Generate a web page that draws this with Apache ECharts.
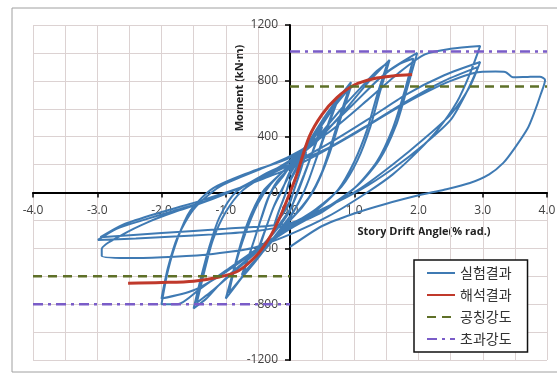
<!DOCTYPE html>
<html>
<head>
<meta charset="utf-8">
<script src="https://cdn.jsdelivr.net/npm/echarts@6/dist/echarts.min.js"></script>
<style>
  html, body { margin: 0; padding: 0; background: #fff; }
  #chart { width: 557px; height: 373px; }
</style>
</head>
<body>
<div id="chart"></div>
<script>
// drift angle ticks (% rad.) and moment ticks (kN·m)
var xTicks = [-4, -3, -2, -1, 0, 1, 2, 3, 4];
var yTicks = [-1200, -800, -400, 0, 400, 800, 1200];

// 실험결과 - hysteresis loops
var testCurve = [
  [0,0],[0.12,150],[0.25,290],[0.18,180],[0.08,40],[0,-60],[-0.12,-150],[-0.25,-240],[-0.18,-140],[-0.08,-20],
  [0,80],[0.12,180],[0.25,280],[0.17,170],[0.07,30],[0,-70],[-0.12,-160],[-0.24,-230],[-0.17,-130],[-0.07,-10],
  [0,90],[0.2,260],[0.35,380],[0.5,490],[0.38,330],[0.25,160],[0.12,0],[0,-120],[-0.2,-250],[-0.35,-340],[-0.5,-430],
  [-0.4,-290],[-0.27,-120],[-0.15,0],[0,130],[0.2,280],[0.5,470],[0.37,310],[0.22,130],[0.1,-10],[0,-130],[-0.25,-290],
  [-0.5,-410],[-0.38,-260],[-0.25,-100],[-0.12,20],
  [0,150],[0.3,350],[0.55,540],[0.75,690],[0.6,500],[0.45,300],[0.3,100],[0.15,-60],[0,-170],[-0.3,-350],[-0.55,-500],
  [-0.75,-610],[-0.62,-430],[-0.48,-230],[-0.35,-50],[-0.2,80],[0,180],[0.3,370],[0.55,550],[0.75,670],[0.58,460],
  [0.4,230],[0.25,40],[0.1,-100],[0,-180],[-0.3,-360],[-0.75,-590],[-0.6,-400],[-0.45,-190],[-0.3,0],[-0.1,120],
  [0,190],[0.3,360],[0.6,560],[0.8,700],[0.95,790],[0.8,580],[0.65,360],[0.5,150],[0.3,-30],[0,-200],[-0.3,-350],
  [-0.6,-520],[-0.85,-670],[-1.0,-760],[-0.88,-560],[-0.75,-340],[-0.6,-150],[-0.4,20],[0,200],[0.4,420],[0.7,620],
  [0.95,760],[0.78,520],[0.6,260],[0.4,40],[0.2,-100],[0,-200],[-0.4,-400],[-0.7,-580],[-0.95,-720],[-0.85,-520],
  [-0.7,-300],[-0.5,-80],[-0.3,60],
  [0,200],[0.4,380],[0.8,600],[1.1,750],[1.35,870],[1.52,930],[1.35,690],[1.2,450],[1.0,220],[0.75,20],[0.4,-130],
  [0,-230],[-0.4,-380],[-0.8,-530],[-1.1,-660],[-1.3,-760],[-1.5,-830],[-1.38,-600],[-1.25,-380],[-1.1,-180],
  [-0.85,0],[-0.4,130],[0,220],[0.4,360],[0.8,560],[1.2,780],[1.55,950],[1.4,720],[1.25,470],[1.05,230],[0.8,40],
  [0.4,-120],[0,-240],[-0.5,-420],[-0.9,-580],[-1.2,-700],[-1.45,-790],[-1.33,-560],[-1.2,-340],[-1.0,-140],
  [-0.75,10],[-0.4,120],
  [0,230],[0.5,420],[1.0,640],[1.4,820],[1.7,920],[1.92,960],[1.78,720],[1.6,460],[1.35,220],[1.0,30],[0.5,-140],
  [0,-250],[-0.5,-400],[-1.0,-560],[-1.4,-690],[-1.75,-800],[-2.0,-800],[-1.9,-560],[-1.75,-330],[-1.55,-130],
  [-1.2,30],[-0.6,150],[0,250],[0.5,420],[1.0,640],[1.5,860],[1.98,1000],[1.82,740],[1.65,480],[1.4,240],[1.05,50],
  [0.5,-130],[0,-260],[-0.5,-410],[-1.0,-570],[-1.5,-700],[-2.0,-760],[-1.9,-540],[-1.75,-320],[-1.5,-120],
  [-1.1,40],[-0.5,160],
  [0,260],[0.6,430],[1.2,660],[1.7,860],[2.1,990],[2.5,1030],[2.96,1050],[2.8,850],[2.6,650],[2.3,450],[2.0,300],
  [1.6,130],[1.2,0],[0.6,-170],[0,-300],[-0.6,-400],[-1.2,-440],[-1.8,-460],[-2.4,-470],[-2.93,-455],
  [-2.93,-405],[-2.6,-300],[-2.2,-210],[-1.8,-140],[-1.4,-80],[-1.0,-10],[-0.5,90],[0,200],[0.6,350],[1.2,520],
  [1.8,700],[2.4,840],[2.96,935],[2.8,760],[2.5,560],[2.1,390],[1.6,200],[1.1,30],[0.6,-100],[0,-230],[-0.6,-280],
  [-1.2,-300],[-1.8,-315],[-2.4,-330],[-2.99,-340],[-2.7,-260],[-2.3,-200],[-1.8,-130],[-1.3,-60],[-0.8,30],
  [-0.3,150],[0,200],[0.6,320],[1.2,480],[1.8,650],[2.4,800],[2.93,900],[2.75,720],[2.5,520],[2.1,350],[1.6,170],
  [1.1,20],[0.5,-120],[0,-220],[-1.0,-260],[-2.0,-290],[-2.95,-320],[-2.6,-230],[-2.0,-140],[-1.4,-60],[-0.8,30],
  [-0.3,120],[0,170],[0.5,290],[1.0,420],[1.5,560],[2.0,690],[2.5,800],[2.96,864],[3.2,866],[3.35,864],[3.47,825],
  [3.7,828],[3.89,830],[3.97,806],[3.9,700],[3.8,570],[3.7,460],[3.5,320],[3.32,212],[3.1,130],[2.8,68],[2.4,20],
  [2.02,-18],[1.5,-80],[1.0,-150],[0.5,-240],[0,-390]
];

// 해석결과 - analysis backbone
var analysisCurve = [
  [-2.52,-650],[-2.0,-645],[-1.5,-635],[-1.1,-605],[-0.8,-560],[-0.5,-440],[-0.3,-310],[-0.15,-170],[0,0],
  [0.1,120],[0.3,400],[0.5,560],[0.73,680],[1.0,770],[1.3,815],[1.6,835],[1.9,845]
];

// 공칭강도 / 초과강도 strength levels
var nominalPos = [[0,760],[4,760]];
var nominalNeg = [[-4,-600],[0,-600]];
var overPos = [[0,1010],[4,1010]];
var overNeg = [[-4,-800],[0,-800]];

var chart = echarts.init(document.getElementById('chart'));

var gridColor = '#dcd2d2';
var labelFont = { color: '#404040', fontSize: 12, fontFamily: 'Open Sans' };

// plot box in px, axes cross in the middle (at 0,0)
var box = { left: 33, right: 10, top: 25, bottom: 13 };
var plotW = 557 - box.left - box.right;
var plotH = 373 - box.top - box.bottom;

chart.setOption({
  animation: false,
  backgroundColor: '#fff',
  grid: { left: box.left, right: box.right, top: box.top, bottom: box.bottom, outerBoundsMode: 'none', containLabel: false },
  graphic: [
    {
      type: 'rect',
      shape: { x: 12, y: 8, width: 560, height: 364 },
      style: { fill: 'none', stroke: '#a0a0a0', lineWidth: 1 },
      silent: true
    },
    {
      type: 'text',
      x: 240, y: 88,
      rotation: Math.PI / 2,
      style: {
        text: 'Moment (kN·m)',
        fontSize: 11, fontWeight: 'bold', fill: '#222',
        fontFamily: 'Open Sans',
        align: 'center', verticalAlign: 'middle'
      }
    },
    {
      type: 'text',
      x: 424, y: 232,
      style: {
        text: 'Story Drift Angle(% rad.)',
        fontSize: 11, fontWeight: 'bold', fill: '#222',
        fontFamily: 'Open Sans',
        align: 'center', verticalAlign: 'middle'
      }
    }
  ],
  legend: {
    orient: 'vertical',
    left: 414,
    top: 260,
    padding: [6, 16, 6, 12],
    itemGap: 8,
    itemWidth: 28,
    itemHeight: 10,
    backgroundColor: '#fff',
    borderColor: '#111',
    borderWidth: 1.5,
    // hide the point marker, keep only the line sample
    itemStyle: { opacity: 0, color: 'rgba(0,0,0,0)', borderWidth: 0 },
    textStyle: { fontSize: 14, color: '#333', fontFamily: 'Noto Sans CJK KR' },
    data: ['실험결과', '해석결과', '공칭강도', '초과강도']
  },
  xAxis: {
    type: 'value',
    min: -4,
    max: 4,
    interval: 1,
    position: 'bottom',
    offset: -plotH / 2,
    axisLine: { onZero: false, lineStyle: { color: '#000', width: 2 } },
    axisTick: { show: true, length: 5, lineStyle: { color: '#000', width: 1.5 } },
    axisLabel: Object.assign({ margin: 12, formatter: function (v) { return v.toFixed(1); } }, labelFont),
    splitLine: { show: true, lineStyle: { color: gridColor, width: 1 } },
    minorTick: { show: false, splitNumber: 2 },
    minorSplitLine: { show: true, lineStyle: { color: gridColor, width: 1 } }
  },
  yAxis: {
    type: 'value',
    min: -1200,
    max: 1200,
    interval: 400,
    position: 'left',
    offset: -plotW / 2,
    axisLine: { onZero: false, lineStyle: { color: '#000', width: 2 } },
    axisTick: { show: true, length: 5, lineStyle: { color: '#000', width: 1.5 } },
    axisLabel: Object.assign({ margin: 12, formatter: function (v) { return String(v); } }, labelFont),
    splitLine: { show: true, lineStyle: { color: gridColor, width: 1 } },
    minorTick: { show: false, splitNumber: 2 },
    minorSplitLine: { show: true, lineStyle: { color: gridColor, width: 1 } }
  },
  series: [
    {
      name: '실험결과',
      type: 'line',
      data: testCurve,
      smooth: 0.25,
      symbol: 'none',
      lineStyle: { color: '#3f7ab3', width: 2 },
      itemStyle: { color: '#3f7ab3' },
      z: 2
    },
    {
      name: '해석결과',
      type: 'line',
      data: analysisCurve,
      smooth: 0.3,
      symbol: 'none',
      lineStyle: { color: '#c0392b', width: 3 },
      itemStyle: { color: '#c0392b' },
      z: 3
    },
    {
      name: '공칭강도',
      type: 'line',
      data: nominalPos,
      symbol: 'none',
      lineStyle: { color: '#5f7028', width: 2.5, type: [9, 6] },
      itemStyle: { color: '#5f7028' },
      z: 4
    },
    {
      name: '공칭강도',
      type: 'line',
      data: nominalNeg,
      symbol: 'none',
      lineStyle: { color: '#5f7028', width: 2.5, type: [9, 6] },
      itemStyle: { color: '#5f7028' },
      z: 4
    },
    {
      name: '초과강도',
      type: 'line',
      data: overPos,
      symbol: 'none',
      lineStyle: { color: '#7a5cc8', width: 2.5, type: [10, 5, 3, 5] },
      itemStyle: { color: '#7a5cc8' },
      z: 4
    },
    {
      name: '초과강도',
      type: 'line',
      data: overNeg,
      symbol: 'none',
      lineStyle: { color: '#7a5cc8', width: 2.5, type: [10, 5, 3, 5] },
      itemStyle: { color: '#7a5cc8' },
      z: 4
    }
  ]
});
</script>
</body>
</html>
